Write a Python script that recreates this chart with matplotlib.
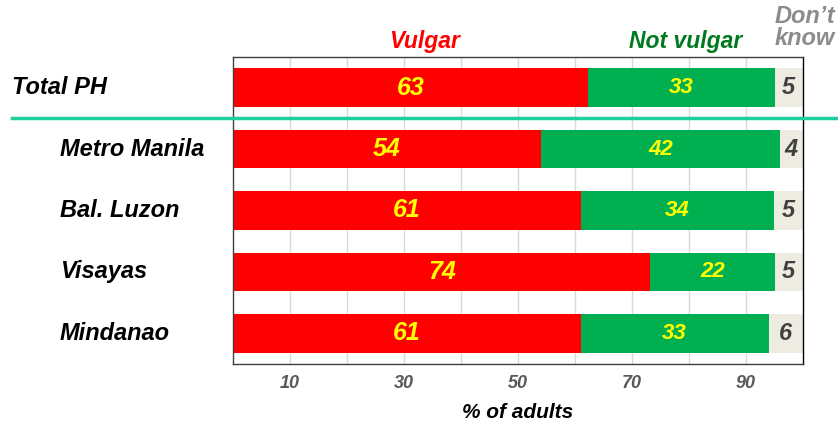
import matplotlib.pyplot as plt
from matplotlib.lines import Line2D
from matplotlib.transforms import blended_transform_factory

plt.rcParams['font.family'] = ['Liberation Sans', 'DejaVu Sans']

# data
areas = ['Total PH', 'Metro Manila', 'Bal. Luzon', 'Visayas', 'Mindanao']
vulgar = [63, 54, 61, 74, 61]
not_vulgar = [33, 42, 34, 22, 33]
dont_know = [5, 4, 5, 5, 6]
tick_vals = [10, 20, 30, 40, 50, 60, 70, 80, 90]
tick_labels = ['10', '', '30', '', '50', '', '70', '', '90']

red = '#FF0000'
green = '#00B050'
gray = '#EEECE1'

# bars are scaled so each row fills 100%
totals = [a + b + c for a, b, c in zip(vulgar, not_vulgar, dont_know)]
w1 = [v * 100 / t for v, t in zip(vulgar, totals)]
w2 = [v * 100 / t for v, t in zip(not_vulgar, totals)]
w3 = [v * 100 / t for v, t in zip(dont_know, totals)]
left2 = w1
left3 = [a + b for a, b in zip(w1, w2)]

fig = plt.figure(figsize=(8.38, 4.25), dpi=100)
ax = fig.add_axes([0.278, 0.1435, 0.680, 0.7225])

y = list(range(len(areas)))
h = 0.63
ax.barh(y, w1, height=h, color=red, zorder=2)
ax.barh(y, w2, left=left2, height=h, color=green, zorder=2)
ax.barh(y, w3, left=left3, height=h, color=gray, zorder=2)

for i in y:
    ax.text(w1[i] / 2, i, str(vulgar[i]), ha='center', va='center',
            color='#FFFF00', fontsize=18, fontweight='bold', style='italic', zorder=3)
    ax.text(left2[i] + w2[i] / 2, i, str(not_vulgar[i]), ha='center', va='center',
            color='#FFFF00', fontsize=16, fontweight='bold', style='italic', zorder=3)
    ax.text(left3[i] + w3[i] / 2, i, str(dont_know[i]), ha='center', va='center',
            color='#404040', fontsize=17, fontweight='bold', style='italic', zorder=3)

ax.set_xlim(0, 100)
ax.set_ylim(len(areas) - 0.5, -0.5)
ax.set_yticks([])
ax.set_xticks(tick_vals)
ax.set_xticklabels(tick_labels)
ax.tick_params(axis='x', length=0, pad=8, labelsize=13, labelcolor='#595959')
for lab in ax.get_xticklabels():
    lab.set_fontweight('bold')
    lab.set_style('italic')
ax.grid(axis='x', color='#D9D9D9', lw=1, zorder=0)
for s in ax.spines.values():
    s.set_color('#404040')
    s.set_linewidth(1)
ax.spines['right'].set_color('black')
ax.set_xlabel('% of adults', fontsize=15, fontweight='bold', style='italic', labelpad=8)

# category labels
tr = blended_transform_factory(fig.transFigure, ax.transData)
for i, name in enumerate(areas):
    xpos = 12 / 838 if i == 0 else 60 / 838
    ax.text(xpos, i, name, transform=tr, ha='left', va='center', fontsize=17,
            fontweight='bold', style='italic', color='black')

# separator below Total PH
fig.add_artist(Line2D([12 / 838, 1], [0.5, 0.5], transform=tr, color='#1DCFA0', lw=2.5,
                      zorder=5))

# column headers
tr2 = blended_transform_factory(ax.transData, ax.transAxes)
ax.text(33.7, 1.05, 'Vulgar', transform=tr2, ha='center', va='center', color=red,
        fontsize=16.5, fontweight='bold', style='italic')
ax.text(79.5, 1.05, 'Not vulgar', transform=tr2, ha='center', va='center', color='#007A1F',
        fontsize=16.5, fontweight='bold', style='italic')
ax.text(100.3, 1.095, 'Don\u2019t\nknow', transform=tr2, ha='center', va='center',
        color='#8C8C8C', fontsize=17, fontweight='bold', style='italic', linespacing=0.95)

fig.savefig('out.png', dpi=100)
